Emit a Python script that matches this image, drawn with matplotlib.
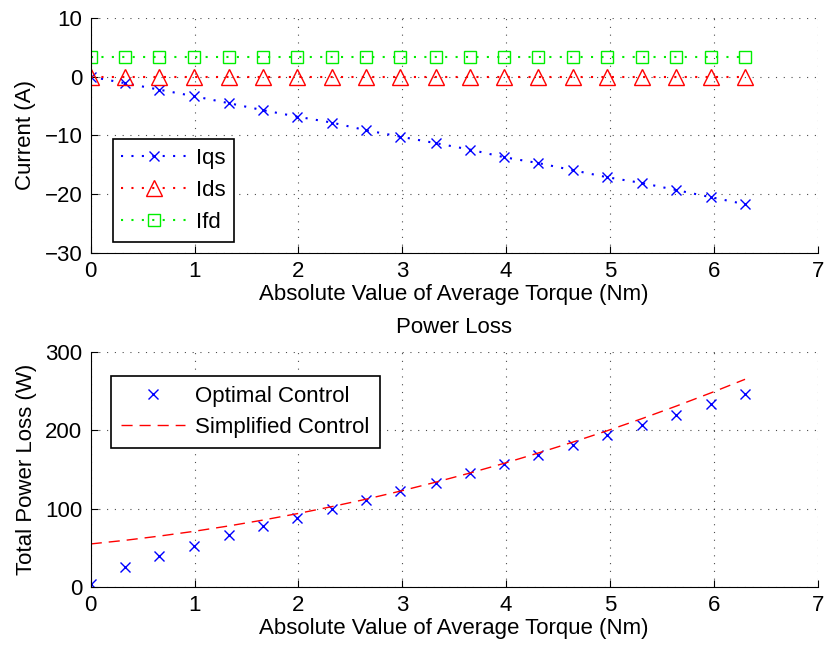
import matplotlib
matplotlib.use("Agg")
from matplotlib import pyplot as plt

torque = [0, 0.33, 0.66, 0.99, 1.33, 1.66, 1.99, 2.32, 2.65, 2.98,
          3.32, 3.65, 3.98, 4.31, 4.64, 4.97, 5.31, 5.64, 5.97, 6.3]
iqs = [0, -1.1, -2.2, -3.3, -4.5, -5.7, -6.8, -7.8, -9.1, -10.2,
       -11.3, -12.4, -13.7, -14.7, -15.9, -17.1, -18.1, -19.3, -20.5, -21.7]
ids = [0] * 20
ifd = [3.3] * 20

optimal = [4, 25, 40, 53, 66, 78, 88, 100, 111, 122,
           133, 145, 157, 168, 181, 194, 207, 220, 234, 247]
simplified = [55, 59.6, 65, 71, 78, 85.5, 93.7, 102.6, 112.1, 122.4,
              133.8, 145.5, 157.9, 171.1, 184.9, 199.4, 215.1, 231.1, 247.8, 265.2]

plt.rcParams['font.family'] = ['Liberation Sans', 'DejaVu Sans']
fs = 16

fig = plt.figure(figsize=(8.25, 6.45), dpi=100)

def style(ax):
    ax.spines['top'].set_visible(False)
    ax.spines['right'].set_visible(False)
    ax.grid(True, linestyle=(0, (1, 6)), color='k', linewidth=0.8, alpha=0.7)
    ax.tick_params(direction='in', labelsize=fs, length=5, pad=6, top=False, right=False)
    ax.set_xlim(0, 7)

# top: currents
ax1 = fig.add_axes([0.110, 0.6078, 0.8812, 0.3643])
dot = (0, (1, 4))
ax1.plot(torque, iqs, linestyle=dot, color='b', marker='x', markersize=7, label='Iqs')
ax1.plot(torque, ids, linestyle=dot, color='r', marker='^', markersize=11, mfc='none', label='Ids')
ax1.plot(torque, ifd, linestyle=dot, color='#00ee00', marker='s', markersize=8, mfc='none', label='Ifd')
ax1.set_ylim(-30, 10)
ax1.set_yticks([-30, -20, -10, 0, 10])
style(ax1)
ax1.set_xlabel('Absolute Value of Average Torque (Nm)', fontsize=fs, labelpad=1)
ax1.set_ylabel('Current (A)', fontsize=fs, labelpad=6)
leg = ax1.legend(loc='lower left', bbox_to_anchor=(0.030, 0.047), borderaxespad=0,
                 fontsize=fs, fancybox=False, edgecolor='k', framealpha=1,
                 handlelength=2.9, handletextpad=0.45, labelspacing=0.5, borderpad=0.4)
leg.get_frame().set_linewidth(1.2)

# bottom: power loss
ax2 = fig.add_axes([0.110, 0.0899, 0.8812, 0.3643])
ax2.plot(torque, optimal, 'x', color='b', markersize=7, label='Optimal Control')
ax2.plot(torque, simplified, '--', color='r', dashes=(8, 5), linewidth=1, label='Simplified Control')
ax2.set_ylim(0, 300)
ax2.set_yticks([0, 100, 200, 300])
style(ax2)
ax2.set_title('Power Loss', fontsize=fs, pad=14)
ax2.set_xlabel('Absolute Value of Average Torque (Nm)', fontsize=fs, labelpad=1)
ax2.set_ylabel('Total Power Loss (W)', fontsize=fs, labelpad=6)
leg2 = ax2.legend(loc='upper left', bbox_to_anchor=(0.0275, 0.898), borderaxespad=0,
                  fontsize=fs, fancybox=False, edgecolor='k', framealpha=1,
                  handlelength=2.9, handletextpad=0.45, labelspacing=0.45, borderpad=0.45)
leg2.get_frame().set_linewidth(1.2)

fig.savefig('out.png', dpi=100)
